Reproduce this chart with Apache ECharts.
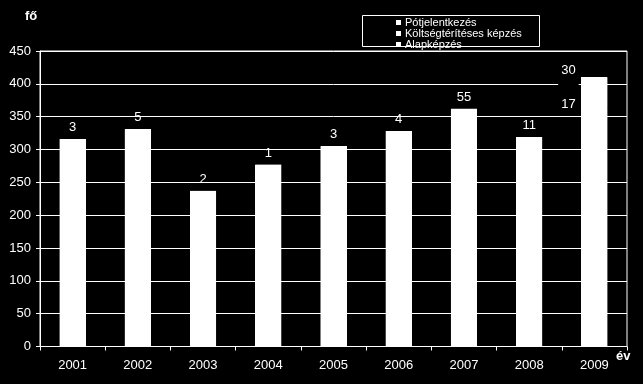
<!DOCTYPE html>
<html>
<head>
<meta charset="utf-8">
<script src="https://cdn.jsdelivr.net/npm/echarts@6/dist/echarts.min.js"></script>
<style>html,body{margin:0;padding:0;background:#000;}#c{width:643px;height:384px;}</style>
</head>
<body>
<div id="c"></div>
<script>
var years = ['2001','2002','2003','2004','2005','2006','2007','2008','2009'];
var alapkepzes = [313, 326, 235, 276, 302, 324, 307, 308, 363];
var koltsegteritses = [null, null, null, null, null, null, null, null, 17];
var potjelentkezes = [3, 5, 2, 1, 3, 4, 55, 11, 30];
var yTicks = [0, 50, 100, 150, 200, 250, 300, 350, 400, 450];

var FONT = 'Liberation Sans, Arial, sans-serif';
var chart = echarts.init(document.getElementById('c'), null, {renderer: 'canvas'});

var potData = potjelentkezes.map(function (v, i) {
  if (i === 8) {
    return {value: v, label: {offset: [-26, 14], backgroundColor: '#000', padding: [0, 3, 9, 3]}};
  }
  return v;
});
var koltsData = koltsegteritses.map(function (v, i) {
  if (v == null) return v;
  return {value: v, label: {show: true, position: 'top', offset: [-26, 19]}};
});

// rows for a seamless overlay of the full stacked column
var stackRows = years.map(function (y, i) {
  return [i, alapkepzes[i] || 0, koltsegteritses[i] || 0, potjelentkezes[i] || 0];
});

var barStyle = {color: '#fff'};

chart.setOption({
  backgroundColor: '#000',
  animation: false,
  textStyle: {fontFamily: FONT},
  grid: {left: 40, right: 16, top: 51, bottom: 37.5, show: true, borderColor: '#fff', borderWidth: 1, backgroundColor: 'transparent'},
  legend: {
    orient: 'vertical',
    left: 396,
    top: 17,
    padding: 0,
    itemGap: 0,
    itemWidth: 5,
    itemHeight: 5,
    icon: 'rect',
    data: ['Pótjelentkezés', 'Költségtérítéses képzés', 'Alapképzés'],
    textStyle: {color: '#fff', fontSize: 11, lineHeight: 8.5, fontFamily: FONT, padding: [0, 0, 0, -1]},
    itemStyle: {color: '#fff'}
  },
  graphic: [
    {type: 'rect', shape: {x: 362.5, y: 15.5, width: 177, height: 31}, style: {fill: 'none', stroke: '#fff', lineWidth: 1}, z: 0},
    {type: 'text', left: 25, top: 10, style: {text: 'fő', fill: '#fff', font: 'bold 13px ' + FONT}},
    {type: 'text', left: 616, top: 350, style: {text: 'év', fill: '#fff', font: 'bold 13px ' + FONT}}
  ],
  xAxis: {
    type: 'category',
    data: years,
    axisLine: {lineStyle: {color: '#fff', width: 1}},
    axisTick: {show: true, length: 4, lineStyle: {color: '#fff'}},
    axisLabel: {color: '#fff', fontSize: 13, margin: 12, fontFamily: FONT}
  },
  yAxis: {
    type: 'value',
    min: 0,
    max: 450,
    interval: 50,
    axisLine: {show: true, lineStyle: {color: '#fff', width: 1}},
    axisTick: {show: true, length: 4, lineStyle: {color: '#fff'}},
    axisLabel: {color: '#fff', fontSize: 13, margin: 9, fontFamily: FONT,
      formatter: function (v) { return yTicks.indexOf(v) >= 0 ? String(v) : ''; }},
    splitLine: {show: true, lineStyle: {color: '#fff', width: 1}}
  },
  series: [
    {name: 'Alapképzés', type: 'bar', stack: 'a', barWidth: 26, data: alapkepzes, itemStyle: barStyle},
    {name: 'Költségtérítéses képzés', type: 'bar', stack: 'a', barWidth: 26, data: koltsData, itemStyle: barStyle,
      label: {show: false, color: '#fff', fontSize: 13, fontFamily: FONT}},
    {name: 'Pótjelentkezés', type: 'bar', stack: 'a', barWidth: 26, data: potData, itemStyle: barStyle,
      label: {show: true, position: 'top', color: '#fff', fontSize: 13, fontFamily: FONT}},
    {
      name: 'overlay', type: 'custom', silent: true, z: 3,
      data: stackRows,
      encode: {x: 0, y: [1, 2, 3]},
      renderItem: function (params, api) {
        var total = api.value(1) + api.value(2) + api.value(3);
        var base = api.coord([api.value(0), 0]);
        var top = api.coord([api.value(0), total]);
        var w = 26;
        return {
          type: 'rect',
          shape: {x: Math.round(base[0] - w / 2), y: Math.round(top[1]), width: w, height: Math.round(base[1]) - Math.round(top[1])},
          style: {fill: '#fff'}
        };
      }
    }
  ]
});
</script>
</body>
</html>
